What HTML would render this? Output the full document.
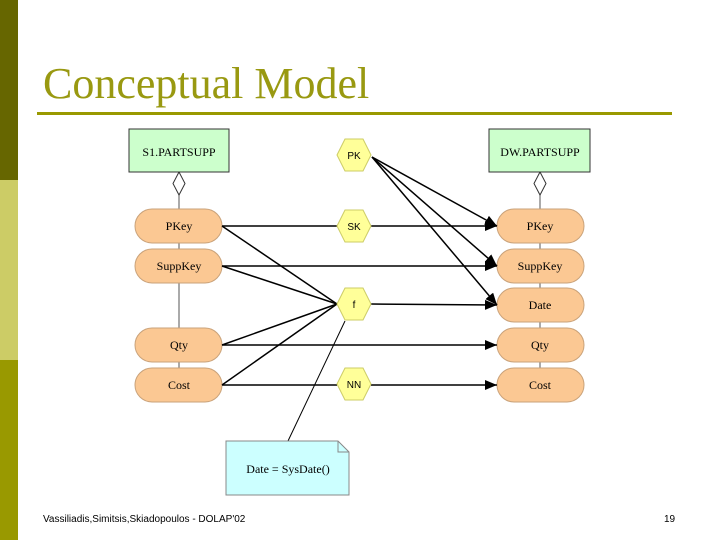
<!DOCTYPE html>
<html><head><style>
body{margin:0;width:720px;height:540px;overflow:hidden;background:#fff;position:relative;font-family:"Liberation Serif",serif}
</style></head><body>
<div style="position:absolute;left:0;top:0;width:18px;height:180px;background:#666600"></div>
<div style="position:absolute;left:0;top:180px;width:18px;height:180px;background:#cccc66"></div>
<div style="position:absolute;left:0;top:360px;width:18px;height:180px;background:#999900"></div>
<div style="position:absolute;left:43px;top:56px;font-size:44px;color:#999911;font-family:'Liberation Serif',serif;line-height:56px">Conceptual Model</div>
<div style="position:absolute;left:37px;top:112px;width:635px;height:3px;background:#999900"></div>
<svg width="720" height="540" style="position:absolute;left:0;top:0" font-family="Liberation Serif">
<defs><marker id="a" markerWidth="12" markerHeight="10" refX="12" refY="5" orient="auto" markerUnits="userSpaceOnUse"><path d="M0,0L12,5L0,10z" fill="#000"/></marker></defs>
<g stroke="#555" stroke-width="1">
<line x1="179" y1="195" x2="179" y2="370"/><line x1="540" y1="195" x2="540" y2="370"/>
</g>
<path d="M179,172l6,11.5l-6,11.5l-6,-11.5z" fill="#fff" stroke="#333"/>
<path d="M540,172l6,11.5l-6,11.5l-6,-11.5z" fill="#fff" stroke="#333"/>
<rect x="129" y="129" width="100" height="43" fill="#ccffcc" stroke="#333"/>
<text x="179" y="156" font-size="12" text-anchor="middle">S1.PARTSUPP</text>
<rect x="489" y="129" width="101" height="43" fill="#ccffcc" stroke="#333"/>
<text x="540" y="156" font-size="12" text-anchor="middle">DW.PARTSUPP</text>
<g fill="#fbc893" stroke="#c9a27a">
<rect x="135" y="209" width="87" height="34" rx="17"/><rect x="135" y="249" width="87" height="34" rx="17"/>
<rect x="135" y="328" width="87" height="34" rx="17"/><rect x="135" y="368" width="87" height="34" rx="17"/>
<rect x="497" y="209" width="87" height="34" rx="17"/><rect x="497" y="249" width="87" height="34" rx="17"/>
<rect x="497" y="288" width="87" height="34" rx="17"/><rect x="497" y="328" width="87" height="34" rx="17"/>
<rect x="497" y="368" width="87" height="34" rx="17"/>
</g>
<g font-size="12" text-anchor="middle">
<text x="179" y="230">PKey</text><text x="179" y="270">SuppKey</text><text x="179" y="349">Qty</text><text x="179" y="389">Cost</text>
<text x="540" y="230">PKey</text><text x="540" y="270">SuppKey</text><text x="540" y="309">Date</text><text x="540" y="349">Qty</text><text x="540" y="389">Cost</text>
</g>
<g stroke="#000" stroke-width="1.5" fill="none">
<line x1="222" y1="226" x2="337" y2="226"/><line x1="371" y1="226" x2="497" y2="226" marker-end="url(#a)"/>
<line x1="222" y1="266" x2="497" y2="266" marker-end="url(#a)"/>
<line x1="222" y1="345" x2="497" y2="345" marker-end="url(#a)"/>
<line x1="222" y1="385" x2="337" y2="385"/><line x1="371" y1="385" x2="497" y2="385" marker-end="url(#a)"/>
<line x1="371" y1="304" x2="497" y2="305" marker-end="url(#a)"/>
<line x1="372" y1="157" x2="497" y2="226" marker-end="url(#a)"/>
<line x1="372" y1="157" x2="497" y2="266" marker-end="url(#a)"/>
<line x1="372" y1="157" x2="497" y2="305" marker-end="url(#a)"/>
<line x1="222" y1="226" x2="337" y2="304"/><line x1="222" y1="266" x2="337" y2="304"/>
<line x1="222" y1="345" x2="337" y2="304"/><line x1="222" y1="385" x2="337" y2="304"/>
</g>
<line x1="345" y1="321" x2="288" y2="441" stroke="#000" stroke-width="1"/>
<g fill="#ffff99" stroke="#cccc66">
<path d="M337,155l8,-16h18l8,16l-8,16h-18z" transform="translate(0,0)"/>
<path d="M337,226l8,-16h18l8,16l-8,16h-18z"/>
<path d="M337,304l8,-16h18l8,16l-8,16h-18z"/>
<path d="M337,384l8,-16h18l8,16l-8,16h-18z"/>
</g>
<g font-family="Liberation Sans" font-size="10" text-anchor="middle">
<text x="354" y="159">PK</text><text x="354" y="230">SK</text><text x="354" y="308">f</text><text x="354" y="388">NN</text>
</g>
<path d="M226,441H338L349,452V495H226Z" fill="#ccffff" stroke="#888"/>
<path d="M338,441V452H349" fill="none" stroke="#888"/>
<text x="288" y="473" font-size="12" text-anchor="middle">Date = SysDate()</text>
<text x="43" y="522" font-family="Liberation Sans" font-size="10">Vassiliadis,Simitsis,Skiadopoulos - DOLAP'02</text>
<text x="664" y="522" font-family="Liberation Sans" font-size="10">19</text>
</svg>
</body></html>
